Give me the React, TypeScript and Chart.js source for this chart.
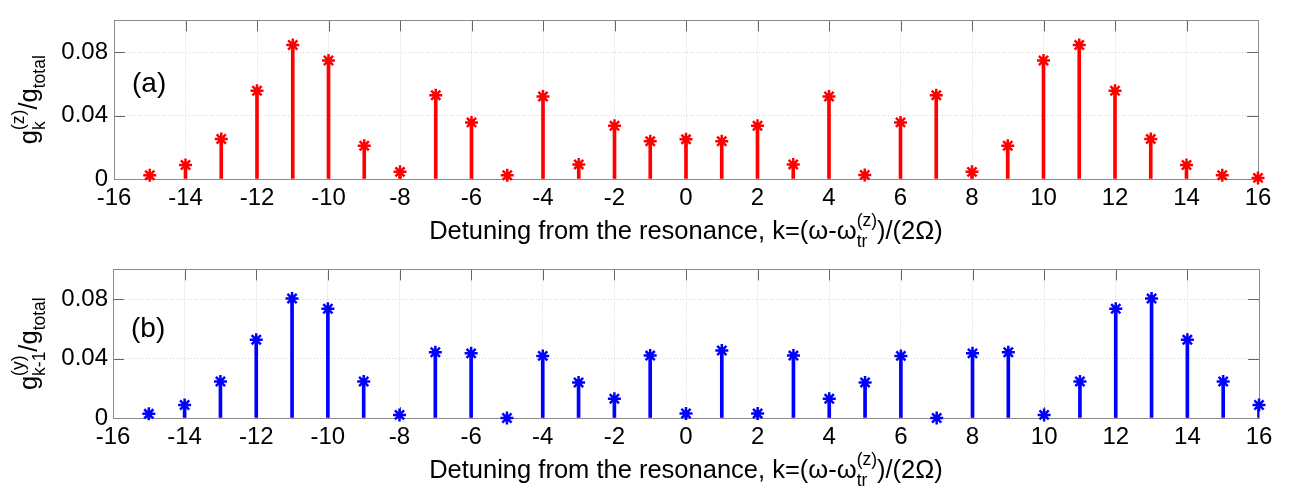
import React, { useEffect, useRef } from "react";
import { Chart, registerables } from "chart.js";

Chart.register(...registerables);

const FAMILY = "'Liberation Sans', Arial, Helvetica, sans-serif";

// Detuning index k for every stem
const kValues = [
  -15, -14, -13, -12, -11, -10, -9, -8, -7, -6, -5, -4, -3, -2, -1, 0,
  1, 2, 3, 4, 5, 6, 7, 8, 9, 10, 11, 12, 13, 14, 15, 16,
];

// Panel (a): g_k^(z) / g_total
const gzValues = [
  0.0024, 0.0088, 0.0252, 0.0556, 0.0845, 0.0747, 0.021, 0.0045, 0.0528, 0.0357, 0.0024, 0.052, 0.0092, 0.0336, 0.0238, 0.025,
  0.0238, 0.0336, 0.0092, 0.052, 0.0026, 0.0357, 0.0528, 0.0045, 0.021, 0.0747, 0.0845, 0.0556, 0.0252, 0.0088, 0.0024, 0.0007,
];

// Panel (b): g_{k-1}^(y) / g_total
const gyValues = [
  0.0028, 0.0088, 0.0246, 0.0527, 0.0804, 0.0735, 0.0246, 0.0021, 0.0443, 0.0435, 0.0, 0.0418, 0.0239, 0.013, 0.042, 0.003,
  0.0454, 0.003, 0.042, 0.013, 0.0239, 0.0418, 0.0, 0.0435, 0.0443, 0.0021, 0.0246, 0.0735, 0.0804, 0.0527, 0.0246, 0.0088,
];

const xTickValues = [-16, -14, -12, -10, -8, -6, -4, -2, 0, 2, 4, 6, 8, 10, 12, 14, 16];
const yTickValues = [0, 0.04, 0.08];
const yTickLabels = ["0", "0.04", "0.08"];

type Part = { text: string; sub?: string; sup?: string };

const xTitleParts: Part[] = [
  { text: "Detuning from the resonance, k=(\u03C9-\u03C9", sub: "tr", sup: "(z)" },
  { text: ")/(2\u03A9)" },
];
const yTitleA: Part[] = [{ text: "g", sub: "k", sup: "(z)" }, { text: "/g", sub: "total" }];
const yTitleB: Part[] = [{ text: "g", sub: "k-1", sup: "(y)" }, { text: "/g", sub: "total" }];

const TICK_FONT = 24;
const TITLE_FONT = 25.5;
const SCRIPT_FONT = 17.5;

function drawRich(
  ctx: CanvasRenderingContext2D,
  parts: Part[],
  px: number,
  py: number,
  angle: number
) {
  const mainFont = `${TITLE_FONT}px ${FAMILY}`;
  const smallFont = `${SCRIPT_FONT}px ${FAMILY}`;
  const sizes = parts.map((p) => {
    ctx.font = mainFont;
    const w = ctx.measureText(p.text).width;
    ctx.font = smallFont;
    const sw = Math.max(
      p.sub ? ctx.measureText(p.sub).width : 0,
      p.sup ? ctx.measureText(p.sup).width : 0
    );
    return { w, sw };
  });
  const total = sizes.reduce((s, z) => s + z.w + z.sw, 0);
  ctx.save();
  ctx.translate(px, py);
  ctx.rotate(angle);
  ctx.fillStyle = "#000";
  ctx.textAlign = "left";
  ctx.textBaseline = "alphabetic";
  let x = -total / 2;
  parts.forEach((p, i) => {
    ctx.font = mainFont;
    ctx.fillText(p.text, x, 0);
    x += sizes[i].w;
    ctx.font = smallFont;
    if (p.sub) ctx.fillText(p.sub, x, 8);
    if (p.sup) ctx.fillText(p.sup, x, -13);
    x += sizes[i].sw;
  });
  ctx.restore();
}

type PanelProps = {
  top: number;
  height: number;
  values: number[];
  color: string;
  yTitle: Part[];
  label: string;
  padTop: number;
  axisLeft: number;
  padRight: number;
  xAxisHeight: number;
  yPad: number;
};

function Panel(props: PanelProps) {
  const ref = useRef<HTMLCanvasElement | null>(null);

  useEffect(() => {
    const canvas = ref.current;
    if (!canvas) return;

    const decor = {
      id: "matlabDecor",
      beforeDatasetsDraw(chart: any) {
        const { ctx, chartArea: a, scales } = chart;
        const xs = scales.x;
        const ys = scales.y;
        ctx.save();
        ctx.strokeStyle = "#666";
        ctx.lineWidth = 1;
        const tl = 11;
        ctx.beginPath();
        xTickValues.forEach((v) => {
          const px = Math.round(xs.getPixelForValue(v)) + 0.5;
          ctx.moveTo(px, a.bottom);
          ctx.lineTo(px, a.bottom - tl);
          ctx.moveTo(px, a.top);
          ctx.lineTo(px, a.top + tl);
        });
        yTickValues.forEach((v) => {
          const py = Math.round(ys.getPixelForValue(v)) + 0.5;
          ctx.moveTo(a.left, py);
          ctx.lineTo(a.left + tl, py);
          ctx.moveTo(a.right, py);
          ctx.lineTo(a.right - tl, py);
        });
        ctx.stroke();
        ctx.strokeStyle = "#8c8c8c";
        ctx.strokeRect(
          Math.round(a.left) + 0.5,
          Math.round(a.top) + 0.5,
          Math.round(a.right - a.left),
          Math.round(a.bottom - a.top)
        );
        ctx.restore();
      },
      afterDraw(chart: any) {
        const { ctx, chartArea: a, scales } = chart;
        ctx.save();
        // panel label
        ctx.font = `28px ${FAMILY}`;
        ctx.fillStyle = "#000";
        ctx.textAlign = "left";
        ctx.textBaseline = "middle";
        ctx.fillText(props.label, a.left + 18, scales.y.getPixelForValue(0.06));
        ctx.restore();
        // axis titles
        drawRich(ctx, xTitleParts, (a.left + a.right) / 2, a.bottom + 60, 0);
        drawRich(ctx, props.yTitle, 37, (a.top + a.bottom) / 2, -Math.PI / 2);
      },
    };

    const chart = new Chart(canvas, {
      type: "scatter",
      data: {
        datasets: [
          {
            type: "scatter",
            data: kValues.map((k, i) => ({ x: k, y: props.values[i] })),
            pointStyle: "star",
            pointRadius: 6.5,
            pointBorderWidth: 2.5,
            pointBorderColor: props.color,
            pointBackgroundColor: props.color,
            showLine: false,
            clip: false,
            order: 0,
          } as any,
          {
            type: "bar",
            data: kValues.map((k, i) => ({ x: k, y: props.values[i] })),
            backgroundColor: props.color,
            borderWidth: 0,
            barThickness: 3,
            order: 1,
          } as any,
        ],
      },
      options: {
        responsive: false,
        animation: false,
        devicePixelRatio: 1,
        layout: { padding: { left: 0, top: props.padTop, right: props.padRight, bottom: 0 } },
        plugins: { legend: { display: false }, tooltip: { enabled: false } },
        events: [],
        scales: {
          x: {
            type: "linear",
            min: -16,
            max: 16,
            offset: false,
            afterBuildTicks: (s: any) => {
              s.ticks = xTickValues.map((v) => ({ value: v }));
            },
            afterFit: (s: any) => {
              s.height = props.xAxisHeight;
            },
            ticks: {
              font: { size: TICK_FONT, family: FAMILY, lineHeight: 1.2 },
              color: "#000",
              padding: 5,
              maxRotation: 0,
              autoSkip: false,
              callback: (v: any) => String(v),
            },
            grid: { color: "#d4d4d4", lineWidth: 1, drawTicks: false, offset: false },
            border: { display: false, dash: [1, 2] },
          },
          y: {
            type: "linear",
            min: 0,
            max: 0.1,
            afterBuildTicks: (s: any) => {
              s.ticks = yTickValues.map((v) => ({ value: v }));
            },
            afterFit: (s: any) => {
              s.width = props.axisLeft;
            },
            ticks: {
              font: { size: TICK_FONT, family: FAMILY, lineHeight: 1.2 },
              color: "#000",
              padding: props.yPad,
              callback: (v: any) => {
                const i = yTickValues.findIndex((t) => Math.abs(t - Number(v)) < 1e-9);
                return i >= 0 ? yTickLabels[i] : "";
              },
            },
            grid: { color: "#d4d4d4", lineWidth: 1, drawTicks: false },
            border: { display: false, dash: [1, 2] },
          },
        },
      },
      plugins: [decor],
    } as any);

    return () => chart.destroy();
  }, []);

  return (
    <canvas
      ref={ref}
      width={1290}
      height={props.height}
      style={{ position: "absolute", left: 0, top: props.top, width: 1290, height: props.height }}
    />
  );
}

export default function App() {
  return (
    <div style={{ position: "absolute", left: 0, top: 0, width: 1290, height: 499, background: "#fff" }}>
      <Panel
        top={0}
        height={250}
        values={gzValues}
        color="#ff0000"
        yTitle={yTitleA}
        label="(a)"
        padTop={3}
        axisLeft={114}
        padRight={32}
        xAxisHeight={71}
        yPad={6}
      />
      <Panel
        top={250}
        height={249}
        values={gyValues}
        color="#0000ff"
        yTitle={yTitleB}
        label="(b)"
        padTop={9}
        axisLeft={113}
        padRight={31}
        xAxisHeight={81}
        yPad={5}
      />
    </div>
  );
}
